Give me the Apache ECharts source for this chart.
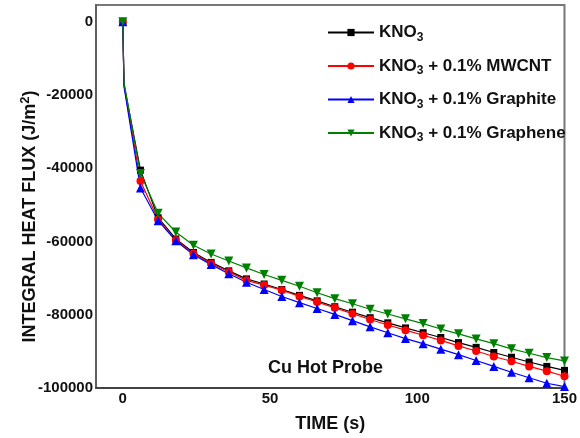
<!DOCTYPE html>
<html>
<head>
<meta charset="utf-8">
<script src="https://cdn.jsdelivr.net/npm/echarts@6/dist/echarts.min.js"></script>
<style>
  html, body { margin: 0; padding: 0; background: #fff; }
  #chart { width: 580px; height: 438px; }
</style>
</head>
<body>
<div id="chart"></div>
<script>
// time (s); the 0.4 s point is the steep initial drop, drawn without a marker
const times = [0, 0.4, 6, 12, 18, 24, 30, 36, 42, 48, 54, 60, 66, 72, 78, 84, 90, 96, 102, 108, 114, 120, 126, 132, 138, 144, 150];
const noMarkerTimes = [0.4];

const kno3 = [0, -17000, -40500, -53500, -59300, -63000, -65700, -68000, -70200, -71600, -73100, -74700, -76200, -77800, -79300, -80800, -82200, -83600, -84900, -86200, -87600, -88900, -90300, -91600, -92900, -94100, -95200];
const mwcnt = [0, -17300, -43500, -54000, -59600, -63300, -66000, -68300, -70600, -71900, -73300, -75000, -76500, -78100, -79700, -81300, -82800, -84200, -85600, -87000, -88500, -89900, -91400, -92700, -94100, -95400, -96800];
const graphite = [0, -17600, -45400, -54300, -59800, -63600, -66300, -68800, -71100, -73100, -75000, -76700, -78300, -79900, -81600, -83300, -84900, -86500, -87900, -89400, -90900, -92500, -94100, -95700, -97200, -98700, -99600];
const graphene = [0, -16600, -41400, -52300, -57400, -61000, -63400, -65300, -67200, -69000, -70600, -72200, -74000, -75600, -77000, -78500, -79800, -81100, -82400, -83900, -85200, -86600, -87900, -89300, -90500, -91700, -92600];

const names = ['KNO3', 'KNO3 + 0.1% MWCNT', 'KNO3 + 0.1% Graphite', 'KNO3 + 0.1% Graphene'];
const colors = ['#000000', '#ff0000', '#0000ff', '#008000'];

const xTicks = [0, 50, 100, 150];
const yTicks = [-100000, -80000, -60000, -40000, -20000, 0];

const font = 'Liberation Sans';

function pairs(values) {
  return times.map(function (t, i) {
    const item = { value: [t, values[i]] };
    if (noMarkerTimes.indexOf(t) >= 0) item.symbol = 'none';
    return item;
  });
}

function makeSeries(name, values, color, symbol, size, rotate) {
  return {
    name: name,
    type: 'line',
    data: pairs(values),
    symbol: symbol,
    symbolSize: size,
    symbolRotate: rotate,
    showAllSymbol: true,
    lineStyle: { color: color, width: 1.2 },
    itemStyle: { color: color },
    emphasis: { disabled: true },
    animation: false
  };
}

const chart = echarts.init(document.getElementById('chart'));
chart.setOption({
  backgroundColor: '#fff',
  textStyle: { fontFamily: font },
  grid: { left: 96, right: 13, top: 5, bottom: 47, show: true, borderColor: '#777', borderWidth: 2 },
  title: {
    text: 'Cu Hot Probe',
    left: 263, top: 354,
    textStyle: { fontFamily: font, fontSize: 18, fontWeight: 'bold', color: '#111' }
  },
  legend: {
    orient: 'vertical',
    left: 322, top: 19,
    itemWidth: 46, itemHeight: 9, itemGap: 14,
    data: names,
    formatter: function (n) {
      return '{b|KNO}{s|3}{b|' + n.slice(4) + '}';
    },
    textStyle: {
      fontFamily: font,
      rich: {
        b: { fontSize: 17, fontWeight: 'bold', color: '#111', fontFamily: font },
        s: { fontSize: 12, fontWeight: 'bold', color: '#111', fontFamily: font, padding: [10, 0, 0, 0] }
      }
    }
  },
  xAxis: {
    type: 'value',
    min: -9.1, max: 150,
    name: 'TIME (s)',
    nameLocation: 'middle',
    nameGap: 27,
    nameMoveOverlap: false,
    nameTextStyle: { fontFamily: font, fontSize: 18, fontWeight: 'bold', color: '#111' },
    axisLine: { onZero: false, lineStyle: { color: '#333', width: 1.5 } },
    axisTick: { show: false },
    splitLine: { show: false },
    axisLabel: {
      customValues: xTicks,
      margin: 3,
      formatter: function (v) { return String(v); },
      fontFamily: font, fontSize: 15, fontWeight: 'bold', color: '#111'
    }
  },
  yAxis: {
    type: 'value',
    min: -100000, max: 4600,
    name: 'INTEGRAL HEAT FLUX (J/m{sup|2})',
    nameLocation: 'middle',
    nameGap: 54,
    nameMoveOverlap: false,
    nameTextStyle: {
      fontFamily: font, fontSize: 18, fontWeight: 'bold', color: '#111',
      padding: [0, 40, 0, 0],
      rich: {
        sup: { fontFamily: font, fontSize: 13, fontWeight: 'bold', color: '#111', padding: [0, 0, 10, 0] }
      }
    },
    axisLine: { onZero: false, lineStyle: { color: '#555', width: 1.5 } },
    axisTick: { show: false },
    splitLine: { show: false },
    axisLabel: {
      customValues: yTicks,
      margin: 3,
      formatter: function (v) { return String(v); },
      fontFamily: font, fontSize: 15, fontWeight: 'bold', color: '#111'
    }
  },
  series: [
    makeSeries(names[0], kno3, colors[0], 'rect', 7, 0),
    makeSeries(names[1], mwcnt, colors[1], 'circle', 8, 0),
    makeSeries(names[2], graphite, colors[2], 'triangle', 9, 0),
    makeSeries(names[3], graphene, colors[3], 'triangle', 9, 180)
  ]
});
</script>
</body>
</html>
